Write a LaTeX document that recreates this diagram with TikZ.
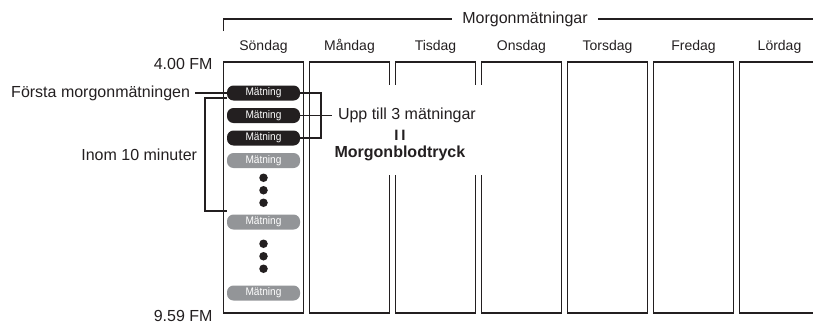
\documentclass[tikz,border=0pt]{standalone}
\usepackage{fontspec}
\setmainfont{Liberation Sans}
\usepackage{graphicx}
\usetikzlibrary{positioning,calc}
\definecolor{ink}{HTML}{231F20}
\definecolor{pillgray}{HTML}{939598}
\newcommand{\matning}{\scalebox{0.92}[1]{Mätning}}

\begin{document}
\begin{tikzpicture}[
  x=1pt, y=-1pt,
  every node/.style={font=\fontsize{16}{19}\selectfont, text=ink, inner sep=0pt, outer sep=0pt},
  daybox/.style={draw=ink, line width=1.1pt, minimum width=80pt, minimum height=251pt},
  dayname/.style={font=\fontsize{14}{17}\selectfont},
  pill/.style={rounded corners=6.5pt, minimum width=73pt, minimum height=15pt, text=white, font=\fontsize{11}{13}\selectfont},
  firstpill/.style={pill, fill=ink},
  laterpill/.style={pill, fill=pillgray},
  dot/.style={circle, fill=ink, minimum size=8.5pt},
  link/.style={draw=ink, line width=1.4pt}
]
\useasboundingbox (0,0) rectangle (813,324);

\node[daybox] (sun) at (263.5,187.5) {};
\node[daybox, right=6pt of sun] (mon) {};
\node[daybox, right=6pt of mon] (tue) {};
\node[daybox, right=6pt of tue] (wed) {};
\node[daybox, right=6pt of wed] (thu) {};
\node[daybox, right=6pt of thu] (fri) {};
\node[daybox, right=6pt of fri] (sat) {};

\node[dayname, above=9pt of sun] (sunname) {Söndag};
\node[dayname, above=9pt of mon] (monname) {Måndag};
\node[dayname, above=9pt of tue] (tuename) {Tisdag};
\node[dayname, above=9pt of wed] (wedname) {Onsdag};
\node[dayname, above=9pt of thu] (thuname) {Torsdag};
\node[dayname, above=9pt of fri] (friname) {Fredag};
\node[dayname, above=9pt of sat] (satname) {Lördag};

\coordinate (brkfoot) at (sun.north west |- 0,31);
\coordinate (brkend) at (816,19);
\draw[link] (brkfoot) |- (brkend);
\node[fill=white, inner xsep=10pt] (title) at (525,19) {Morgonmätningar};

\node[left=11pt of sun.north west, yshift=-1.5pt] (tstart) {4.00 FM};
\node[left=11pt of sun.south west, yshift=-2.5pt] (tend) {9.59 FM};

\node[fill=white, minimum width=160pt, minimum height=90pt] (mask) at (410,130) {};

\node[firstpill, below=23.5pt of sun.north] (m1) {\matning};
\node[firstpill, below=7.5pt of m1] (m2) {\matning};
\node[firstpill, below=7.5pt of m2] (m3) {\matning};
\node[laterpill, below=7.5pt of m3] (m4) {\matning};
\node[dot, below=5.5pt of m4] (d1) {};
\node[dot, below=4pt of d1] (d2) {};
\node[dot, below=4pt of d2] (d3) {};
\node[laterpill, below=7.5pt of d3] (m5) {\matning};
\node[dot, below=10pt of m5] (d4) {};
\node[dot, below=4pt of d4] (d5) {};
\node[dot, below=4pt of d5] (d6) {};
\node[laterpill, below=12.5pt of d6] (m6) {\matning};

\node[left=32pt of m1, inner xsep=5pt] (first) {Första morgonmätningen};
\draw[link] (first) -- (m1);

\coordinate (wtop) at ([yshift=-5pt]m1.west);
\coordinate (wbot) at ([yshift=11pt]m5.west);
\coordinate (wbend) at ([xshift=-22pt]wtop);
\coordinate (wmid) at ($(wbend)!0.5!(wbend |- wbot)$);
\draw[link] (wtop) -- (wbend) |- (wbot);
\node[left=8pt of wmid] (within) {Inom 10 minuter};

\coordinate (rjoin) at ([xshift=21pt]m2.east);
\draw[link] (m1.east) -| (rjoin) |- (m3.east);
\node[right=11pt of rjoin, inner xsep=6pt] (upto) {Upp till 3 mätningar};
\draw[link] (m2) -- (upto);
\node[below=7pt of upto, xshift=-7pt, font=\fontsize{15}{18}\selectfont\bfseries] (equals) {I\kern3pt I};
\node[below=6pt of equals, font=\fontsize{16}{19}\selectfont\bfseries] (bloodp) {Morgonblodtryck};
\end{tikzpicture}
\end{document}
